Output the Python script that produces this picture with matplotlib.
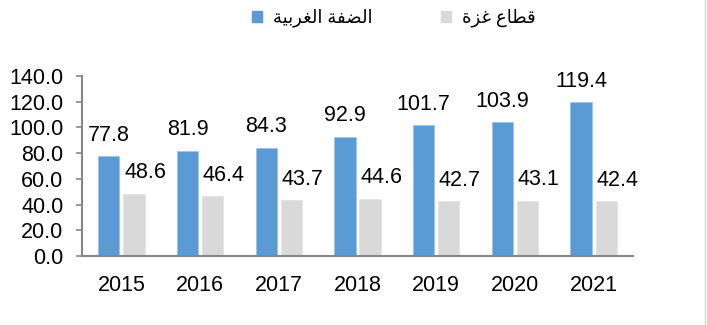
import matplotlib
matplotlib.use('Agg')
import matplotlib.pyplot as plt
from matplotlib.patches import Patch
from matplotlib.lines import Line2D
import numpy as np

plt.rcParams['font.family'] = ['Liberation Sans', 'DejaVu Sans']

years = ['2015', '2016', '2017', '2018', '2019', '2020', '2021']
west_bank = [77.8, 81.9, 84.3, 92.9, 101.7, 103.9, 119.4]
gaza = [48.6, 46.4, 43.7, 44.6, 42.7, 43.1, 42.4]
yticks = [0, 20, 40, 60, 80, 100, 120, 140]

# arabic labels written in presentation forms, visual order (no shaping in matplotlib)
label_wb = '\uFE94\uFEF4\uFE91\uFEAE\uFED0\uFEDF\uFE8D \uFE94\uFED4\uFEC0\uFEDF\uFE8D'
label_gz = '\uFE93\uFEB0\uFECF \uFEC9\uFE8E\uFEC4\uFED7'

blue = '#5B9BD5'
grey = '#D9D9D9'
spine_col = '#868686'

fig = plt.figure(figsize=(7.07, 3.25), dpi=100)
ax = fig.add_axes([82 / 707, 69 / 325, 551 / 707, 180 / 325])

x = np.arange(len(years))
w = 0.27
ax.bar(x - 0.16, west_bank, w, color=blue, edgecolor='#9DC3E6', linewidth=0.6)
ax.bar(x + 0.16, gaza, w, color=grey, edgecolor='#E4E4E4', linewidth=0.6)

for i in range(len(years)):
    ax.annotate(f'{west_bank[i]:.1f}', (x[i] - 0.16, west_bank[i]), xytext=(0, 11),
                textcoords='offset points', ha='center', va='baseline', fontsize=15.5)
    ax.annotate(f'{gaza[i]:.1f}', (x[i] + 0.16, gaza[i]), xytext=(8, 11),
                textcoords='offset points', ha='center', va='baseline', fontsize=15.5)

ax.set_xlim(-0.5, len(years) - 0.5)
ax.set_ylim(0, 140)
ax.set_yticks(yticks)
ax.set_yticklabels([f'{v:.1f}' for v in yticks])
ax.set_xticks(x)
ax.set_xticklabels(years)
ax.tick_params(axis='y', length=4.5, width=1.2, color=spine_col, pad=9, labelsize=15.5)
ax.tick_params(axis='x', length=0, pad=14, labelsize=15.5)

for s in ['top', 'right']:
    ax.spines[s].set_visible(False)
for s in ['left', 'bottom']:
    ax.spines[s].set_color(spine_col)
    ax.spines[s].set_linewidth(1.5)

handles = [Patch(color=blue), Patch(color=grey)]
fig.legend(handles, [label_wb, label_gz], ncol=2, loc='center', bbox_to_anchor=(394 / 707, 1 - 18 / 325),
           frameon=False, fontsize=13, handlelength=0.55, handleheight=0.55, handletextpad=0.6,
           columnspacing=3.8)

fig.add_artist(Line2D([705 / 707, 705 / 707], [0, 1], color='#D9D9D9', linewidth=1))

fig.savefig('out.png', dpi=100)
